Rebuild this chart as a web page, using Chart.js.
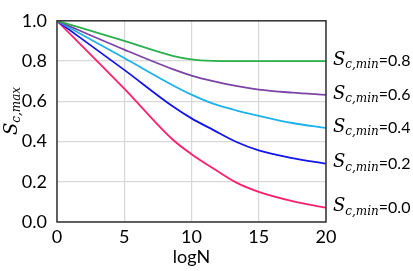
<!DOCTYPE html>
<html>
<head>
<meta charset="utf-8">
<script src="https://cdn.jsdelivr.net/npm/chart.js@4.4.1/dist/chart.umd.min.js"></script>
<style>
  html, body { margin: 0; padding: 0; background: #fff; }
  #wrap { width: 413px; height: 271px; }
</style>
</head>
<body>
<div id="wrap"><canvas id="chart"></canvas></div>
<script>
const logN = [0, 5, 8.6, 10, 11.6, 13.3, 15, 17.5, 20];

const sMin08 = [1.0, 0.900, 0.826, 0.808, 0.801, 0.800, 0.800, 0.800, 0.800];
const sMin06 = [1.0, 0.857, 0.760, 0.728, 0.700, 0.676, 0.658, 0.643, 0.632];
const sMin04 = [1.0, 0.815, 0.680, 0.633, 0.588, 0.555, 0.528, 0.492, 0.467];
const sMin02 = [1.0, 0.756, 0.575, 0.515, 0.458, 0.399, 0.356, 0.318, 0.290];
const sMin00 = [1.0, 0.663, 0.410, 0.337, 0.267, 0.197, 0.150, 0.104, 0.071];

const seriesLabels = ['0.8', '0.6', '0.4', '0.2', '0.0'];
const seriesColors = ['#2bb04e', '#7b44a6', '#1cb2ee', '#1414f0', '#ff1f6e'];

const xTicks = [0, 5, 10, 15, 20];
const yTicks = [0, 0.2, 0.4, 0.6, 0.8, 1.0];
const xTitle = 'logN';

const toPoints = (ys) => ys.map((y, i) => ({ x: logN[i], y: y }));

const allSeries = [sMin08, sMin06, sMin04, sMin02, sMin00];

const datasets = allSeries.map((ys, i) => ({
  label: seriesLabels[i],
  data: toPoints(ys),
  borderColor: seriesColors[i],
  borderWidth: 1.8,
  pointRadius: 0,
  cubicInterpolationMode: 'monotone',
  fill: false
}));

// frame, axis titles and right-hand labels
const extras = {
  id: 'extras',
  afterDraw(chart) {
    const { ctx, chartArea: a, scales } = chart;
    ctx.save();
    ctx.strokeStyle = '#333';
    ctx.lineWidth = 1.5;
    ctx.strokeRect(a.left, a.top, a.right - a.left, a.bottom - a.top);

    // x title
    ctx.fillStyle = '#000';
    ctx.font = '18px Lato, sans-serif';
    ctx.textAlign = 'center';
    ctx.textBaseline = 'middle';
    ctx.fillText(xTitle, (a.left + a.right) / 2, 257);

    // series labels at right end
    allSeries.forEach((ys, i) => {
      const y = scales.y.getPixelForValue(ys[ys.length - 1]);
      let x = a.right + 7;
      ctx.textAlign = 'left';
      ctx.font = 'italic 18px "DejaVu Serif", serif';
      ctx.fillText('S', x, y - 1);
      x += ctx.measureText('S').width;
      ctx.font = 'italic 12px "DejaVu Serif", serif';
      ctx.fillText('c,min', x, y + 4);
      x += ctx.measureText('c,min').width;
      ctx.font = '16px Lato, sans-serif';
      ctx.fillText('=' + seriesLabels[i], x, y);
    });

    // y axis title
    ctx.translate(13, 111);
    ctx.rotate(-Math.PI / 2);
    ctx.textAlign = 'left';
    ctx.font = 'italic 18px "DejaVu Serif", serif';
    const w1 = ctx.measureText('S').width;
    ctx.font = 'italic 12px "DejaVu Serif", serif';
    const w2 = ctx.measureText('c,max').width;
    let x0 = -(w1 + w2) / 2;
    ctx.font = 'italic 18px "DejaVu Serif", serif';
    ctx.fillText('S', x0, -1);
    ctx.font = 'italic 12px "DejaVu Serif", serif';
    ctx.fillText('c,max', x0 + w1, 4);
    ctx.restore();
  }
};

new Chart(document.getElementById('chart'), {
  type: 'line',
  data: { datasets: datasets },
  options: {
    responsive: true,
    maintainAspectRatio: false,
    animation: false,
    layout: { padding: { top: 8, right: 87, left: 0, bottom: 0 } },
    plugins: { legend: { display: false }, tooltip: { enabled: false } },
    scales: {
      x: {
        type: 'linear',
        min: 0, max: 20,
        afterBuildTicks: (s) => { s.ticks = xTicks.map(v => ({ value: v })); },
        afterFit: (s) => { s.height = 49; },
        grid: { color: '#d8d8d8', lineWidth: 1.2, drawTicks: false },
        border: { display: false },
        ticks: { color: '#000', font: { family: 'Lato, sans-serif', size: 18 }, padding: 4 }
      },
      y: {
        min: 0, max: 1,
        afterBuildTicks: (s) => { s.ticks = yTicks.map(v => ({ value: v })); },
        afterFit: (s) => { s.width = 57; },
        grid: { color: '#d8d8d8', lineWidth: 1.2, drawTicks: false },
        border: { display: false },
        ticks: { color: '#000', font: { family: 'Lato, sans-serif', size: 18 }, padding: 10,
                 callback: (v) => v.toFixed(1) }
      }
    }
  },
  plugins: [extras]
});
</script>
</body>
</html>
